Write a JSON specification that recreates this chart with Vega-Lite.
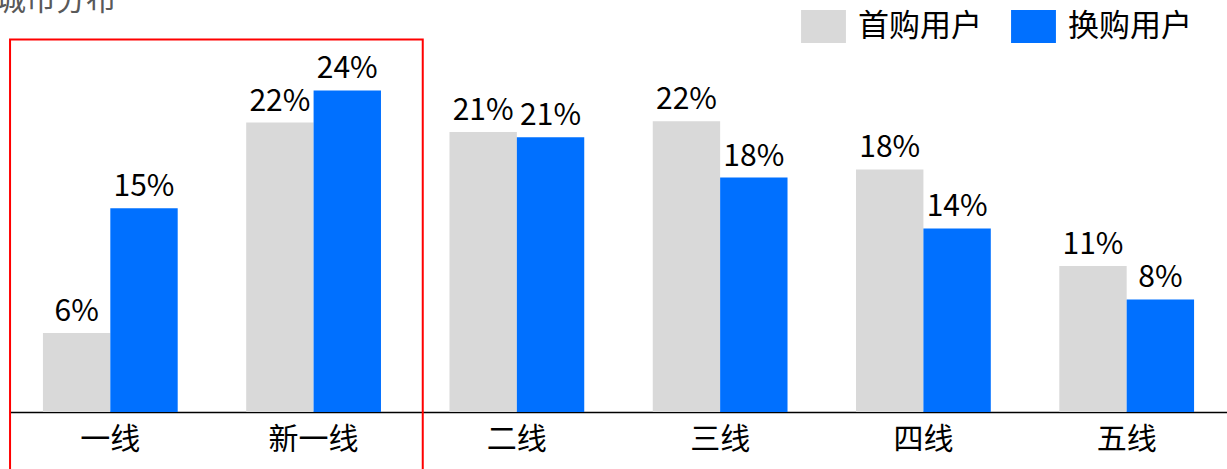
{
  "$schema": "https://vega.github.io/schema/vega-lite/v6.json",
  "autosize": {"type": "none"},
  "width": 1217,
  "height": 402,
  "padding": {"left": 10, "top": 10, "right": 0, "bottom": 57},
  "background": "white",
  "title": {
    "text": "城市分布",
    "anchor": "start",
    "frame": "group",
    "orient": "top",
    "offset": 0,
    "dx": -14,
    "dy": 6,
    "fontSize": 30,
    "fontWeight": "normal",
    "font": "Noto Sans CJK SC",
    "color": "#595959"
  },
  "config": {
    "view": {"stroke": null},
    "font": "Noto Sans CJK SC"
  },
  "datasets": {
    "bars": [
      {"city": "一线", "group": "首购用户", "value": 5.9, "label": "6%"},
      {"city": "一线", "group": "换购用户", "value": 15.2, "label": "15%"},
      {"city": "新一线", "group": "首购用户", "value": 21.6, "label": "22%"},
      {"city": "新一线", "group": "换购用户", "value": 24.0, "label": "24%"},
      {"city": "二线", "group": "首购用户", "value": 20.9, "label": "21%"},
      {"city": "二线", "group": "换购用户", "value": 20.5, "label": "21%"},
      {"city": "三线", "group": "首购用户", "value": 21.7, "label": "22%"},
      {"city": "三线", "group": "换购用户", "value": 17.5, "label": "18%"},
      {"city": "四线", "group": "首购用户", "value": 18.1, "label": "18%"},
      {"city": "四线", "group": "换购用户", "value": 13.7, "label": "14%"},
      {"city": "五线", "group": "首购用户", "value": 10.9, "label": "11%"},
      {"city": "五线", "group": "换购用户", "value": 8.4, "label": "8%"}
    ],
    "box": [
      {"from": "一线", "to": "新一线", "top": 27.8, "bottom": -6}
    ]
  },
  "layer": [
    {
      "data": {"name": "bars"},
      "mark": {"type": "bar"},
      "encoding": {
        "x": {
          "field": "city", "type": "nominal",
          "scale": {"domain": ["一线", "新一线", "二线", "三线", "四线", "五线"], "paddingInner": 0.337, "paddingOuter": 0.162},
          "axis": {
            "title": null, "ticks": false, "labelAngle": 0,
            "labelFontSize": 30, "labelColor": "#000000", "labelPadding": 12,
            "labelFont": "Noto Sans CJK SC",
            "domainColor": "#000000", "domainWidth": 1.5
          }
        },
        "xOffset": {
          "field": "group", "type": "nominal",
          "scale": {"domain": ["首购用户", "换购用户"], "paddingInner": 0, "paddingOuter": 0}
        },
        "y": {
          "field": "value", "type": "quantitative",
          "scale": {"domain": [0, 30], "nice": false, "zero": true},
          "axis": null
        },
        "color": {
          "field": "group", "type": "nominal",
          "scale": {"domain": ["首购用户", "换购用户"], "range": ["#d9d9d9", "#0070ff"]},
          "legend": {
            "title": null,
            "orient": "none",
            "direction": "horizontal",
            "legendX": 797,
            "legendY": 0,
            "padding": 0,
            "symbolType": "M-1.36,-1H1.36V1H-1.36Z",
            "symbolSize": 1089,
            "symbolStrokeWidth": 0,
            "symbolOpacity": 1,
            "labelFontSize": 31,
            "labelFont": "Noto Sans CJK SC",
            "labelColor": "#000000",
            "labelOffset": 18,
            "columnPadding": 29,
            "labelLimit": 300
          }
        }
      }
    },
    {
      "data": {"name": "bars"},
      "mark": {"type": "text", "baseline": "alphabetic", "dy": -12, "fontSize": 30, "font": "Noto Sans CJK SC", "color": "#000000"},
      "encoding": {
        "x": {"field": "city", "type": "nominal"},
        "xOffset": {"field": "group", "type": "nominal"},
        "y": {"field": "value", "type": "quantitative"},
        "text": {"field": "label", "type": "nominal"}
      }
    },
    {
      "data": {"name": "box"},
      "mark": {"type": "rect", "filled": false, "stroke": "#ff0000", "strokeWidth": 2, "clip": false},
      "encoding": {
        "x": {"field": "from", "type": "nominal", "bandPosition": -0.244},
        "x2": {"field": "to", "bandPosition": 1.31},
        "y": {"field": "top", "type": "quantitative"},
        "y2": {"field": "bottom"}
      }
    }
  ]
}
